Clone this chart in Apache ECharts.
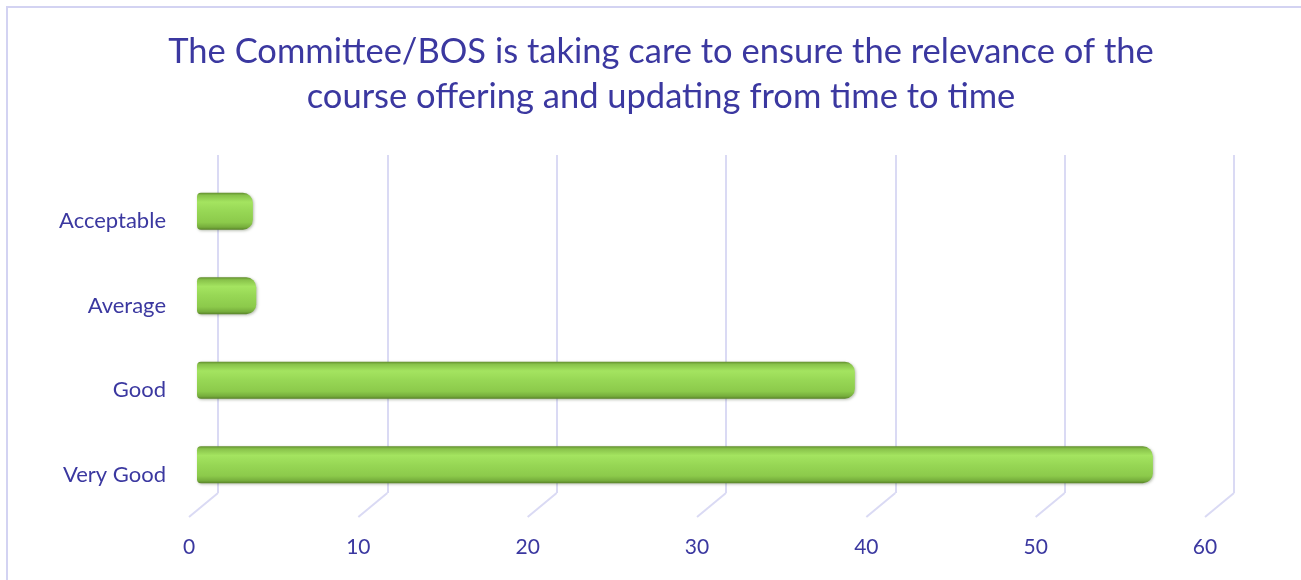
<!DOCTYPE html>
<html>
<head>
<meta charset="utf-8">
<title>Committee/BOS course relevance</title>
<script src="https://cdn.jsdelivr.net/npm/echarts@6/dist/echarts.min.js"></script>
<style>
  html, body { margin: 0; padding: 0; background: #ffffff; }
  #frame {
    position: absolute; left: 6px; top: 6px; width: 1310px; height: 590px;
    border-left: 2px solid #d3d3f2; border-top: 2px solid #d3d3f2;
    box-sizing: border-box;
  }
  #chart { position: absolute; left: 0; top: 0; width: 1301px; height: 580px; }
</style>
</head>
<body>
<div id="frame"></div>
<div id="chart"></div>
<script>
// Response categories, listed top to bottom
const categories = ['Acceptable', 'Average', 'Good', 'Very Good'];
// Number of responses per category
const responses = [3.3, 3.5, 38.85, 56.45];
// Value axis ticks
const xTicks = [0, 10, 20, 30, 40, 50, 60];

const titleText = 'The Committee/BOS is taking care to ensure the relevance of the\ncourse offering and updating from time to time';
const ink = '#3b38a0';
const gridColor = '#dadaf4';
const font = 'Lato, "Open Sans", sans-serif';

const xMin = xTicks[0];
const xMax = xTicks[xTicks.length - 1];
const xStep = xTicks[1] - xTicks[0];

// Three planes of the pseudo-3D plot: back wall, bar depth, front edge
const plotW = 1016, plotH = 338;
const grids = [
  { left: 218, top: 155, width: plotW, height: plotH }, // back wall
  { left: 197, top: 169, width: plotW, height: plotH }, // bars
  { left: 189, top: 179, width: plotW, height: plotH }  // front edge / labels
];

const valueAxis = (gridIndex, extra) => Object.assign({
  type: 'value', gridIndex, min: xMin, max: xMax, interval: xStep,
  axisLine: { show: false }, axisTick: { show: false },
  axisLabel: { show: false }, splitLine: { show: false }
}, extra);

const catAxis = (gridIndex, extra) => Object.assign({
  type: 'category', gridIndex, data: categories, inverse: true,
  axisLine: { show: false }, axisTick: { show: false },
  axisLabel: { show: false }, splitLine: { show: false }
}, extra);

const barFill = new echarts.graphic.LinearGradient(0, 0, 0, 1, [
  { offset: 0.00, color: '#628e2e' },
  { offset: 0.07, color: '#88c24a' },
  { offset: 0.25, color: '#a4e460' },
  { offset: 0.50, color: '#97d755' },
  { offset: 0.80, color: '#8cca4b' },
  { offset: 0.93, color: '#76ad3c' },
  { offset: 1.00, color: '#588228' }
]);

const chart = echarts.init(document.getElementById('chart'), null, { renderer: 'canvas' });
chart.setOption({
  animation: false,
  backgroundColor: 'transparent',
  title: {
    text: titleText,
    left: 661, top: 29, padding: 0,
    textAlign: 'center',
    textStyle: { color: ink, fontFamily: font, fontWeight: 'normal', fontSize: 34.5, lineHeight: 45 }
  },
  grid: grids,
  xAxis: [
    valueAxis(0, { splitLine: { show: true, lineStyle: { color: gridColor, width: 2 } } }),
    valueAxis(1),
    valueAxis(2, { axisLabel: { show: true, color: ink, fontFamily: font, fontSize: 21, margin: 20 } })
  ],
  yAxis: [
    catAxis(0),
    catAxis(1),
    catAxis(2, { axisLabel: { show: true, color: ink, fontFamily: font, fontSize: 22, margin: 23 } })
  ],
  series: [
    {
      // floor edges running from the back wall to the front at each tick
      type: 'custom',
      xAxisIndex: 0, yAxisIndex: 0,
      silent: true,
      data: xTicks.map(v => [v]),
      encode: { x: 0 },
      renderItem: function (params, api) {
        const cs = params.coordSys;
        const x = api.coord([api.value(0), 0])[0];
        const y = cs.y + cs.height;
        return {
          type: 'line',
          shape: { x1: x, y1: y, x2: x - 29, y2: y + 24 },
          style: { stroke: gridColor, lineWidth: 2 }
        };
      },
      z: 1
    },
    {
      type: 'bar',
      xAxisIndex: 1, yAxisIndex: 1,
      data: responses,
      barWidth: 37,
      itemStyle: {
        color: barFill,
        borderRadius: [4, 10, 10, 4],
        shadowColor: 'rgba(40, 60, 20, 0.35)',
        shadowBlur: 3,
        shadowOffsetX: 1,
        shadowOffsetY: 1
      },
      z: 3
    }
  ]
});
</script>
</body>
</html>
